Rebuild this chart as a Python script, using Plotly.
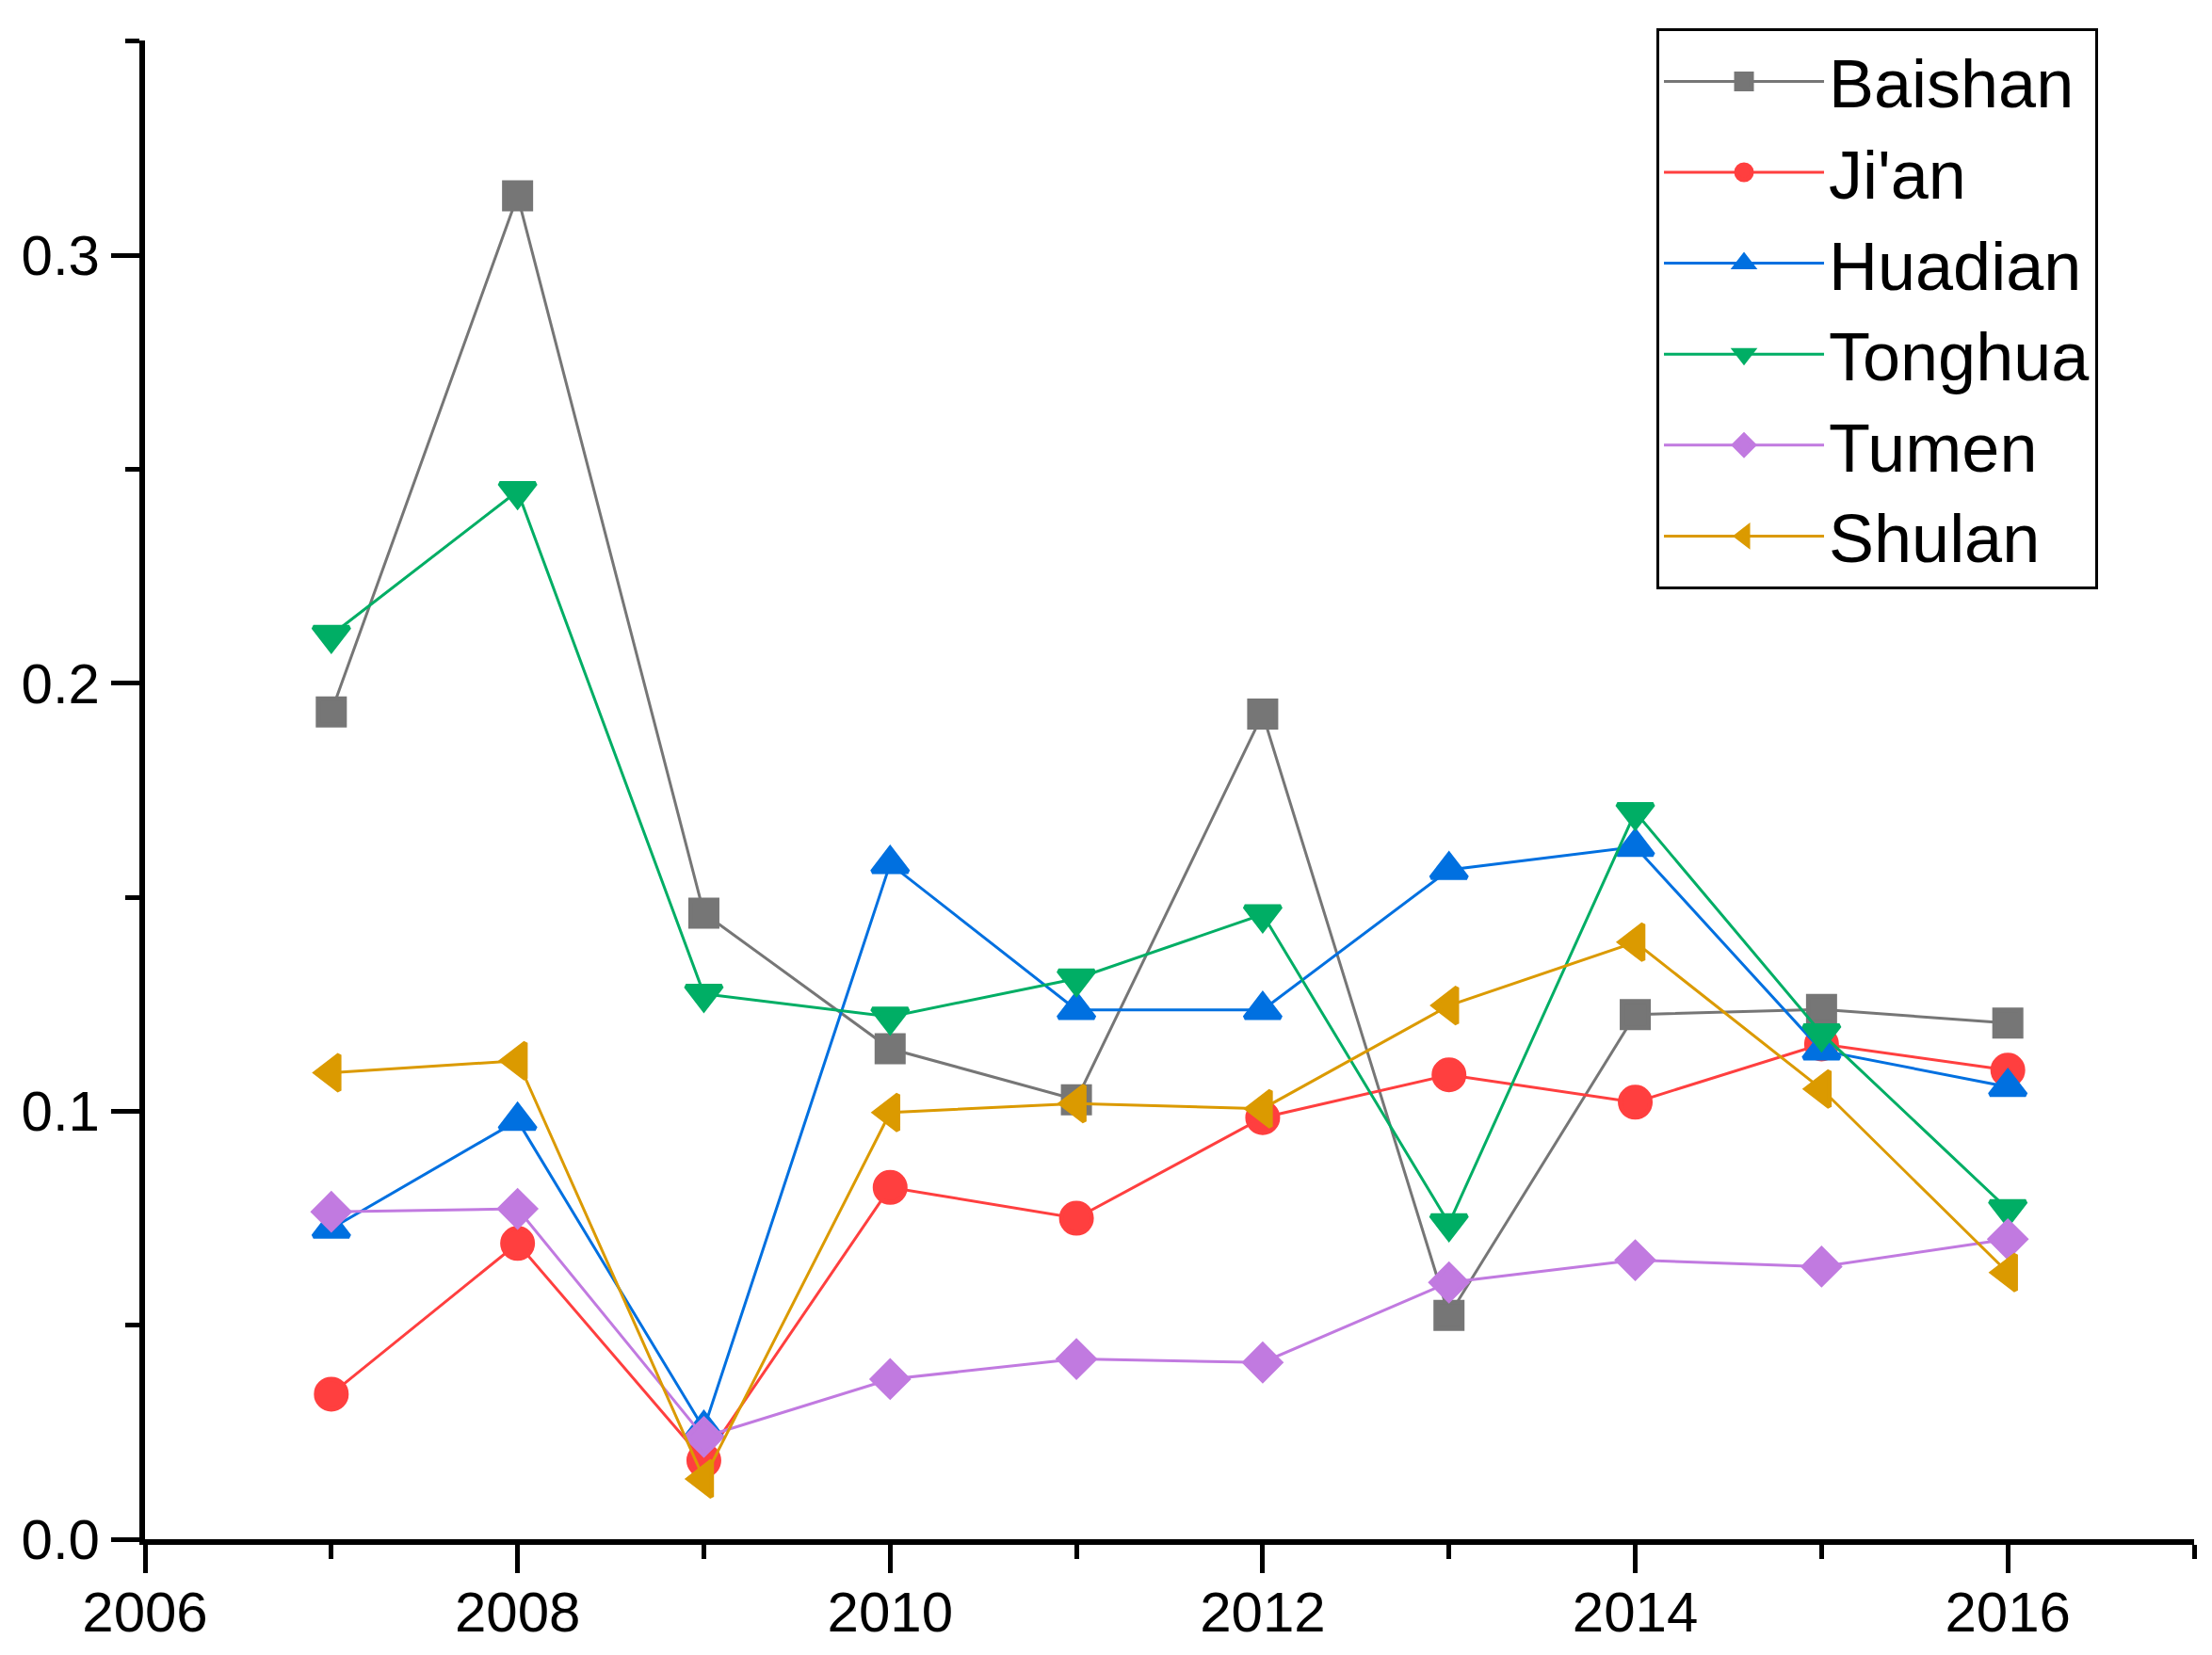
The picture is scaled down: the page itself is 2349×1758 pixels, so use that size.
import plotly.graph_objects as go

years = [2007, 2008, 2009, 2010, 2011, 2012, 2013, 2014, 2015, 2016]

baishan = [0.1933, 0.3139, 0.1463, 0.1146, 0.1027, 0.1928, 0.0523, 0.1226, 0.1238, 0.1206]
jian    = [0.0339, 0.0691, 0.0184, 0.0822, 0.0750, 0.0985, 0.1085, 0.1021, 0.1157, 0.1096]
huadian = [0.0726, 0.0978, 0.0258, 0.1578, 0.1237, 0.1237, 0.1564, 0.1618, 0.1142, 0.1057]
tonghua = [0.2113, 0.2449, 0.1274, 0.1221, 0.1310, 0.1460, 0.0738, 0.1699, 0.1182, 0.0771]
tumen   = [0.0765, 0.0772, 0.0239, 0.0374, 0.0421, 0.0413, 0.0600, 0.0652, 0.0637, 0.0701]
shulan  = [0.1090, 0.1118, 0.0141, 0.0997, 0.1018, 0.1006, 0.1247, 0.1395, 0.1052, 0.0623]

series_names = ["Baishan", "Ji'an", "Huadian", "Tonghua", "Tumen", "Shulan"]
series_values = [baishan, jian, huadian, tonghua, tumen, shulan]
colors = ["#767676", "#FF3F3F", "#0070E0", "#00AE65", "#C17AE0", "#DB9A00"]
symbols = ["square", "circle", "triangle-up", "triangle-down", "diamond", "triangle-left"]
sizes = [28, 32, 33, 33, 29, 33]

FONT = "Liberation Sans, Arial, sans-serif"

fig = go.Figure()
for name, vals, col, sym, sz in zip(series_names, series_values, colors, symbols, sizes):
    fig.add_trace(go.Scatter(
        x=years, y=vals, name=name, mode="lines+markers",
        line=dict(color=col, width=3),
        marker=dict(symbol=sym, size=sz, color=col, line=dict(width=5, color=col)),
    ))

axis_common = dict(
    showline=True, linecolor="black", linewidth=6,
    showgrid=False, zeroline=False,
    ticks="outside", ticklen=30, tickwidth=5, tickcolor="black",
    tickfont=dict(family=FONT, size=60, color="black"),
    mirror=False,
)

fig.update_xaxes(
    range=[2006, 2017], tick0=2006, dtick=2,
    minor=dict(dtick=1, ticks="outside", ticklen=15, tickwidth=5, tickcolor="black", showgrid=False),
    ticklabelstandoff=-10,
    **axis_common,
)
fig.update_yaxes(
    range=[0, 0.3502], tick0=0, dtick=0.1, tickformat=".1f",
    minor=dict(dtick=0.05, ticks="outside", ticklen=15, tickwidth=5, tickcolor="black", showgrid=False),
    **axis_common,
)

fig.update_layout(
    width=2341, height=1750,
    margin=dict(l=146, r=19, t=35, b=115),
    paper_bgcolor="white", plot_bgcolor="white",
    font=dict(family=FONT, color="black"),
    legend=dict(
        x=0.7376, y=1.0081, xanchor="left", yanchor="top",
        bgcolor="white", bordercolor="black", borderwidth=3,
        font=dict(family=FONT, size=72, color="black"),
        itemwidth=170, tracegroupgap=0,
    ),
    showlegend=True,
)

fig.write_html("out.html")
